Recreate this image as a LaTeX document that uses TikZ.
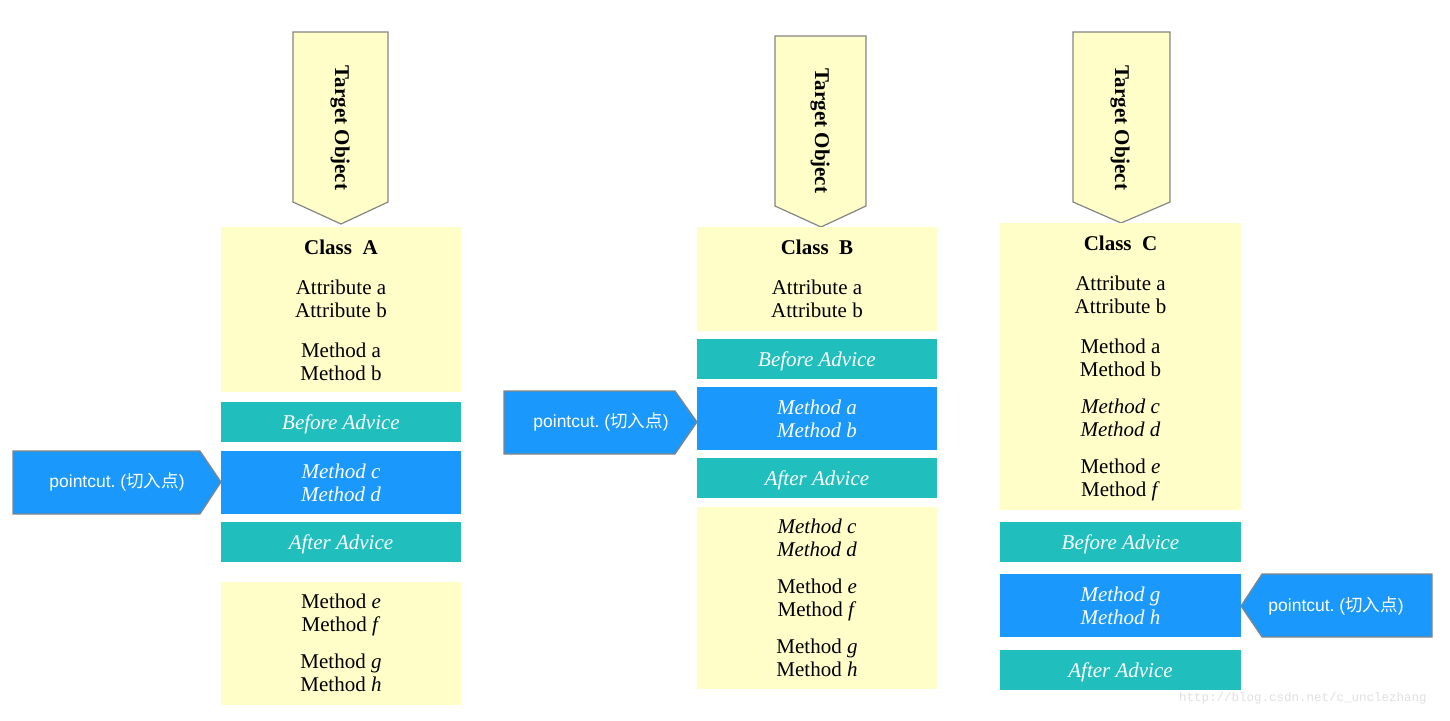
\documentclass[tikz,border=0pt]{standalone}
\usepackage{fontspec}
\setmainfont{Liberation Serif}
\newfontfamily\pcsans{Liberation Sans}
\newfontfamily\pccjk{Noto Sans CJK SC}
\newfontfamily\wmmono{Liberation Mono}
\definecolor{yfill}{HTML}{FFFEC8}
\definecolor{tealfill}{HTML}{20BFBD}
\definecolor{bluefill}{HTML}{1A98FC}
\definecolor{edgegray}{HTML}{858585}
\frenchspacing
\begin{document}
\begin{tikzpicture}[x=1pt,y=-1pt,
  ybox/.style={fill=yfill, draw=none, inner sep=0pt, minimum width=240pt, anchor=north west},
  tbox/.style={fill=tealfill, draw=none, inner sep=0pt, minimum width=240pt, minimum height=40pt,
     text height=14pt, text depth=0pt,
     text=white, font=\fontsize{21}{23}\selectfont\itshape},
  bbox/.style={fill=bluefill, draw=none, inner sep=0pt, minimum width=240pt, minimum height=63pt,
     text=white, align=center, font=\fontsize{21}{23}\selectfont\itshape},
  tx/.style={anchor=base, inner sep=0pt, font=\fontsize{21}{23}\selectfont},
  hd/.style={anchor=base, inner sep=0pt, font=\fontsize{21}{23}\selectfont\bfseries},
  tarrow/.style={fill=yfill, draw=edgegray, line width=1.2pt, line join=miter},
  ttext/.style={rotate=-90, inner sep=0pt, font=\fontsize{21}{23}\selectfont\bfseries},
  pcarrow/.style={fill=bluefill, draw=edgegray, line width=1.2pt, line join=miter},
  pctext/.style={inner sep=0pt, text=white, font=\pcsans\fontsize{17.5}{20}\selectfont}
]
\useasboundingbox[fill=white] (0,0) rectangle (1450,720);

% ---------- Column A ----------
\draw[tarrow] (293,32) -- (388,32) -- (388,202) -- (341,224) -- (293,202) -- cycle;
\node[ttext] (tA) at (340,128) {Target Object};
\node[ybox, minimum height=165pt] (yA1) at (221,227) {};
\node[hd] (cA) at (341,254) {Class\ \ A};
\node[tx] (aA1) at (341,294) {Attribute a};
\node[tx] (aA2) at (341,317) {Attribute b};
\node[tx] (mA1) at (341,357) {Method a};
\node[tx] (mA2) at (341,380) {Method b};
\node[tbox] (beA) at (341,422) {Before Advice};
\node[bbox] (blA) at (341,482.5) {Method c\\Method d};
\node[tbox] (afA) at (341,542) {After Advice};
\node[ybox, minimum height=123pt] (yA2) at (221,582) {};
\node[tx] (mA5) at (341,608) {Method \textit{e}};
\node[tx] (mA6) at (341,631) {Method \textit{f}};
\node[tx] (mA7) at (341,668) {Method \textit{g}};
\node[tx] (mA8) at (341,691) {Method \textit{h}};
\draw[pcarrow] (13,451) -- (200,451) -- (221,482) -- (200,514) -- (13,514) -- cycle;
\node[pctext] (pA) at (117,482) {pointcut. ({\pccjk 切入点})};

% ---------- Column B ----------
\draw[tarrow] (775,36) -- (866,36) -- (866,206) -- (821,227) -- (775,206) -- cycle;
\node[ttext] (tB) at (820,131) {Target Object};
\node[ybox, minimum height=104pt] (yB1) at (697,227) {};
\node[hd] (cB) at (817,254) {Class\ \ B};
\node[tx] (aB1) at (817,294) {Attribute a};
\node[tx] (aB2) at (817,317) {Attribute b};
\node[tbox] (beB) at (817,359) {Before Advice};
\node[bbox] (blB) at (817,418.5) {Method a\\Method b};
\node[tbox] (afB) at (817,478) {After Advice};
\node[ybox, minimum height=182pt] (yB2) at (697,507) {};
\node[tx] (mB3) at (817,533) {\itshape Method c};
\node[tx] (mB4) at (817,556) {\itshape Method d};
\node[tx] (mB5) at (817,593) {Method \textit{e}};
\node[tx] (mB6) at (817,616) {Method \textit{f}};
\node[tx] (mB7) at (817,653) {Method \textit{g}};
\node[tx] (mB8) at (817,676) {Method \textit{h}};
\draw[pcarrow] (504,391) -- (675,391) -- (697,422) -- (675,454) -- (504,454) -- cycle;
\node[pctext] (pB) at (601,422) {pointcut. ({\pccjk 切入点})};

% ---------- Column C ----------
\draw[tarrow] (1073,32) -- (1170,32) -- (1170,202) -- (1121,223) -- (1073,202) -- cycle;
\node[ttext] (tC) at (1120,128) {Target Object};
\node[ybox, minimum height=287pt, minimum width=241pt] (yC1) at (1000,223) {};
\node[hd] (cC) at (1120.5,250) {Class\ \ C};
\node[tx] (aC1) at (1120.5,290) {Attribute a};
\node[tx] (aC2) at (1120.5,313) {Attribute b};
\node[tx] (mC1) at (1120.5,353) {Method a};
\node[tx] (mC2) at (1120.5,376) {Method b};
\node[tx] (mC3) at (1120.5,413) {\itshape Method c};
\node[tx] (mC4) at (1120.5,436) {\itshape Method d};
\node[tx] (mC5) at (1120.5,473) {Method \textit{e}};
\node[tx] (mC6) at (1120.5,496) {Method \textit{f}};
\node[tbox, minimum width=241pt] (beC) at (1120.5,542) {Before Advice};
\node[bbox, minimum width=241pt] (blC) at (1120.5,605.5) {Method g\\Method h};
\node[tbox, minimum width=241pt] (afC) at (1120.5,670) {After Advice};
\draw[pcarrow] (1241,606) -- (1262,574) -- (1432,574) -- (1432,637) -- (1262,637) -- cycle;
\node[pctext] (pC) at (1336,606) {pointcut. ({\pccjk 切入点})};

% watermark
\node[anchor=west, inner sep=0pt, text=black!12, font=\wmmono\fontsize{12.5}{14}\selectfont] (wm) at (1179,698) {http://blog.csdn.net/c\_unclezhang};
\end{tikzpicture}
\end{document}
